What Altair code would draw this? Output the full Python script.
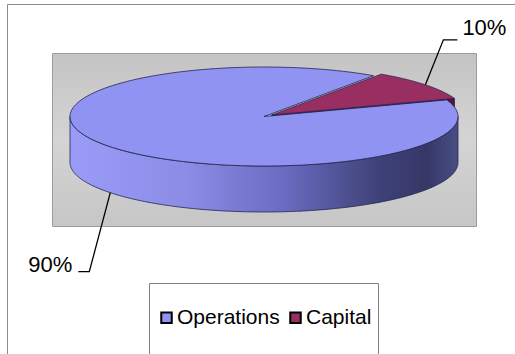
import altair as alt
import numpy as np
import pandas as pd

# ---------------- data ----------------
categories = ["Operations", "Capital"]
values = [90, 10]
label_text = ["90%", "10%"]
colors = ["#9093f2", "#992e63"]
face_colors = ["#3a3d72", "#5a1232"]

# ---------------- layout / style (pixels) ----------------
W, H = 515, 354
RIM_X = [70, 458]        # left / right extent of pie top ellipse
RIM_Y = [166, 67]        # bottom / top extent of pie top ellipse
DEPTH_PX = 46
START_DEG = 55.6
EXPLODE = {"Capital": 0.05}
# leader: (elbow dx, elbow dy, tail dx, text dx, text dy, align)
LEADER = {
    "Operations": (-21, 79, -11, -6, 0, "right"),
    "Capital": (18, -45, 14, 5, -5, "left"),
}
FONT = "Liberation Sans"
EDGE = "#23254f"
N = 160

sx = (RIM_X[1] - RIM_X[0]) / 2.0
sy = (RIM_Y[0] - RIM_Y[1]) / 2.0
DEPTH = DEPTH_PX / sy

xs = alt.Scale(domain=[-1, 1], range=RIM_X, nice=False, zero=False)
ys = alt.Scale(domain=[-1, 1], range=RIM_Y, nice=False, zero=False)

total = float(sum(values))
fr = np.array(values, dtype=float) / total
starts = START_DEG + 360 * np.concatenate([[0], np.cumsum(fr)[:-1]])
ends = starts + 360 * fr


def poly_layer(df, fill, stroke=EDGE, sw=0.8):
    return alt.Chart(df).mark_line(fill=fill, stroke=stroke, strokeWidth=sw,
                                   strokeJoin="round").encode(
        x=alt.X("x:Q", scale=xs, axis=None),
        y=alt.Y("y:Q", scale=ys, axis=None),
        order=alt.Order("i:Q"),
        detail="piece:N",
    )


face_layers, side_layers, top_layers, leader_layers, text_layers = [], [], [], [], []

for k, cat in enumerate(categories):
    s, e = np.radians(starts[k]), np.radians(ends[k])
    m = (s + e) / 2
    ex = EXPLODE.get(cat, 0.0)
    ox, oy = ex * np.cos(m), ex * np.sin(m)

    # top face
    t = np.linspace(s, e, N)
    px = np.concatenate([[ox], ox + np.cos(t), [ox]])
    py = np.concatenate([[oy], oy + np.sin(t), [oy]])
    top_df = pd.DataFrame({"x": px, "y": py, "i": np.arange(len(px)), "piece": cat + "_top"})
    top_layers.append(poly_layer(top_df, colors[k]))

    # visible front wall: parts of [s, e] where sin < 0
    pieces = []
    for base in (np.pi, 3 * np.pi):
        a0, a1 = max(s, base), min(e, base + np.pi)
        if a1 > a0:
            pieces.append((a0, a1))
    for j, (a0, a1) in enumerate(pieces):
        tt = np.linspace(a0, a1, N)
        wx = np.concatenate([ox + np.cos(tt), ox + np.cos(tt[::-1]), [ox + np.cos(tt[0])]])
        wy = np.concatenate([oy + np.sin(tt), oy + np.sin(tt[::-1]) - DEPTH, [oy + np.sin(tt[0])]])
        wdf = pd.DataFrame({"x": wx, "y": wy, "i": np.arange(len(wx)), "piece": f"{cat}_wall{j}"})
        grad = alt.Gradient(
            gradient="linear", x1=0, x2=1, y1=0, y2=0,
            stops=[
                alt.GradientStop(color="#9a9cf8", offset=0),
                alt.GradientStop(color="#8a8ce6", offset=0.3),
                alt.GradientStop(color="#6a6cc2", offset=0.55),
                alt.GradientStop(color="#3e4176", offset=0.8),
                alt.GradientStop(color="#353866", offset=0.92),
                alt.GradientStop(color="#4a4d84", offset=1),
            ],
        )
        side_layers.append(poly_layer(wdf, grad))

    # radial faces of exploded slices (only those facing viewer)
    if ex > 0:
        for ang, sign in ((s, -1), (e, 1)):
            normal = ang + sign * np.pi / 2
            if np.sin(normal) < 0:
                fx = [ox, ox + np.cos(ang), ox + np.cos(ang), ox, ox]
                fy = [oy, oy + np.sin(ang), oy + np.sin(ang) - DEPTH, oy - DEPTH, oy]
                fdf = pd.DataFrame({"x": fx, "y": fy, "i": np.arange(5), "piece": cat + "_face"})
                face_layers.append(poly_layer(fdf, face_colors[k]))

    # leader line and label
    if np.sin(m) < 0:
        axu, ayu = ox + np.cos(m), oy + np.sin(m) - DEPTH
    else:
        axu, ayu = ox + np.cos(m), oy + np.sin(m)
    edx, edy, tdx, txdx, txdy, align = LEADER[cat]
    elx, ely = axu + edx / sx, ayu - edy / sy
    enx, eny = elx + tdx / sx, ely
    ldf = pd.DataFrame({"x": [axu, elx, enx], "y": [ayu, ely, eny], "i": [0, 1, 2],
                        "piece": cat + "_leader"})
    leader_layers.append(
        alt.Chart(ldf).mark_line(color="black", strokeWidth=1.3).encode(
            x=alt.X("x:Q", scale=xs, axis=None),
            y=alt.Y("y:Q", scale=ys, axis=None),
            order=alt.Order("i:Q"),
            detail="piece:N",
        )
    )
    tdf = pd.DataFrame({"x": [enx], "y": [eny], "label": [label_text[k]]})
    text_layers.append(
        alt.Chart(tdf).mark_text(align=align, baseline="alphabetic", dx=txdx, dy=txdy,
                                 font=FONT, fontSize=22, color="black").encode(
            x=alt.X("x:Q", scale=xs, axis=None),
            y=alt.Y("y:Q", scale=ys, axis=None),
            text="label:N",
        )
    )

one = pd.DataFrame({"a": [0]})

frame = alt.Chart(one).mark_rect(fill="white", stroke="#8a8a8a", strokeWidth=1).encode(
    x=alt.value(7.5), x2=alt.value(W + 20), y=alt.value(4.5), y2=alt.value(H + 20))

plot_bg = alt.Chart(one).mark_rect(
    fill=alt.Gradient(gradient="linear", x1=0, x2=0, y1=0, y2=1, stops=[
        alt.GradientStop(color="#c4c4c4", offset=0),
        alt.GradientStop(color="#d4d4d4", offset=0.5),
        alt.GradientStop(color="#c6c6c6", offset=1),
    ]),
    stroke="#9c9c9c", strokeWidth=1).encode(
    x=alt.value(52.5), x2=alt.value(476.5), y=alt.value(53.5), y2=alt.value(226.5))

legend_box = alt.Chart(one).mark_rect(fill="white", stroke="#808080", strokeWidth=1).encode(
    x=alt.value(149.5), x2=alt.value(378.5), y=alt.value(283.5), y2=alt.value(H + 20))

legend_df = pd.DataFrame({"category": categories})
legend_layer = alt.Chart(legend_df).mark_square(opacity=0).encode(
    x=alt.value(-50), y=alt.value(-50),
    fill=alt.Fill("category:N", scale=alt.Scale(domain=categories, range=colors),
                  legend=alt.Legend(
                      orient="none", legendX=156, legendY=307, direction="horizontal",
                      title=None, symbolType="square", symbolSize=110,
                      symbolStrokeColor="black", symbolStrokeWidth=2, symbolOpacity=1,
                      labelFont=FONT, labelFontSize=21, labelColor="black",
                      labelOffset=0, columnPadding=5, padding=0, labelLimit=0)),
)

chart = alt.layer(
    frame, plot_bg, legend_box,
    *face_layers, *side_layers, *top_layers, *leader_layers, *text_layers,
    legend_layer,
).properties(
    width=W, height=H, padding=0, autosize=alt.AutoSizeParams(type="none"),
    background="white",
).configure_view(stroke=None)

chart.save("out.html", embed_options={"renderer": "svg", "actions": False})
